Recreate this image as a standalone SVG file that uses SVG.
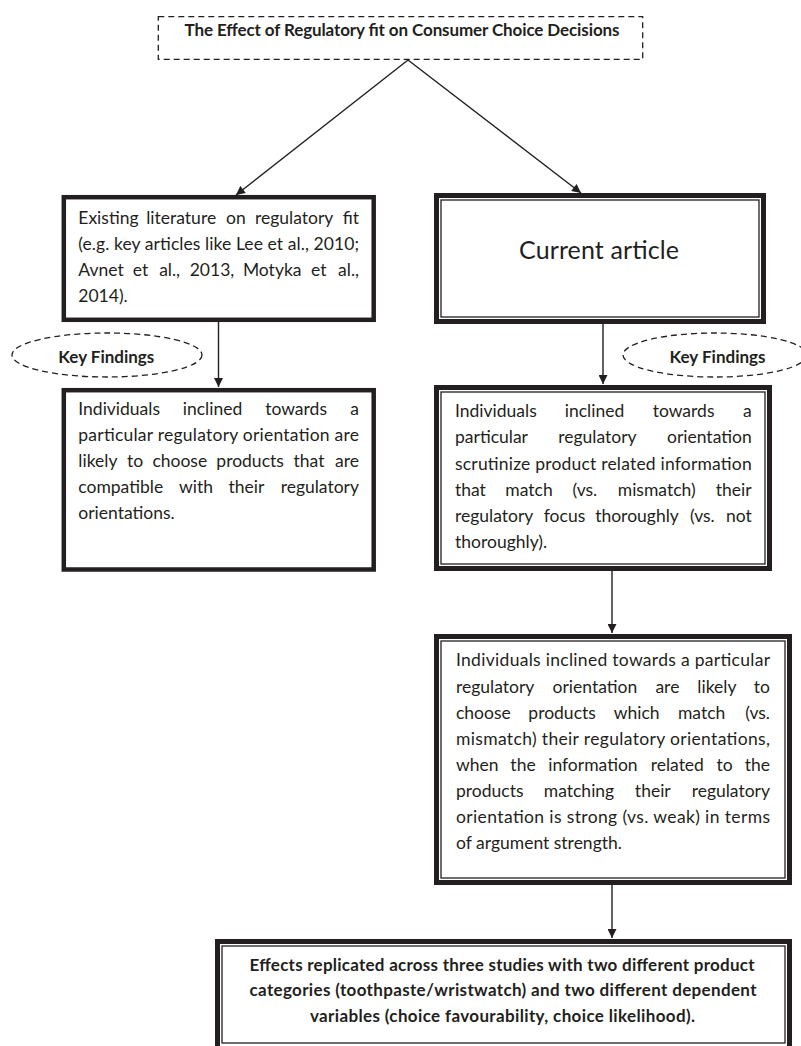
<svg xmlns="http://www.w3.org/2000/svg" width="801" height="1046" viewBox="0 0 801 1046">
<style>
text { font-family: Lato, "Open Sans", "Liberation Sans", sans-serif; fill: #231f20; }
.b { font-size: 17.5px; }
.m { text-anchor: middle; }
.e { text-anchor: end; }
.bold { font-size: 17px; font-weight: bold; }
.big { font-size: 25px; }
.dash { fill: none; stroke: #231f20; stroke-width: 1.3; stroke-dasharray: 6 4; }
.thick { fill: #fff; stroke: #231f20; stroke-width: 4.5; }
.outer { fill: #fff; stroke: #231f20; stroke-width: 5; }
.inner { fill: none; stroke: #231f20; stroke-width: 1.3; }
.conn { fill: none; stroke: #231f20; stroke-width: 1.4; marker-end: url(#ah); }
</style>
<defs>
<marker id="ah" viewBox="0 0 10 10" refX="10" refY="5" markerWidth="10" markerHeight="9" markerUnits="userSpaceOnUse" orient="auto">
<path d="M0,0 L10,5 L0,10 z" fill="#231f20"/>
</marker>
</defs>
<rect width="801" height="1046" fill="#fff"/>

<g id="connectors">
<line class="conn" x1="408" y1="60" x2="236" y2="195"/>
<line class="conn" x1="408" y1="60" x2="581" y2="193"/>
<line class="conn" x1="218.5" y1="322" x2="218.5" y2="387"/>
<line class="conn" x1="603" y1="324" x2="603" y2="384"/>
<line class="conn" x1="612" y1="571" x2="612" y2="633"/>
<line class="conn" x1="612" y1="885" x2="612" y2="938"/>
</g>

<g id="title">
<rect class="dash" x="158.3" y="16.7" width="484.4" height="42.6"/>
<text class="bold" x="402" y="36" text-anchor="middle" textLength="435" lengthAdjust="spacing">The Effect of Regulatory fit on Consumer Choice Decisions</text>
</g>

<g id="existing-literature">
<rect class="thick" x="63.8" y="197.2" width="309.9" height="122.6"/>
<text class="b" x="78.3" y="224">Existing</text><text class="b m" x="181.2" y="224">literature</text><text class="b m" x="235.9" y="224">on</text><text class="b m" x="294.2" y="224">regulatory</text><text class="b e" x="359" y="224">fit</text>
<text class="b" x="78.3" y="250" textLength="280.7" lengthAdjust="spacing">(e.g. key articles like Lee et al., 2010;</text>
<text class="b" x="78.3" y="276">Avnet</text><text class="b m" x="140.6" y="276">et</text><text class="b m" x="169.6" y="276">al.,</text><text class="b m" x="212" y="276">2013,</text><text class="b m" x="272.2" y="276">Motyka</text><text class="b m" x="318.8" y="276">et</text><text class="b e" x="359" y="276">al.,</text>
<text class="b" x="78.3" y="302">2014).</text>
</g>

<g id="key-findings-left">
<ellipse class="dash" cx="107" cy="355" rx="95" ry="22"/>
<text class="bold" x="106.3" y="362.7" text-anchor="middle" textLength="96" lengthAdjust="spacing">Key Findings</text>
</g>

<g id="existing-findings">
<rect class="thick" x="63.8" y="390.2" width="309.9" height="179.3"/>
<text class="b" x="78.3" y="415">Individuals</text><text class="b m" x="212.5" y="415">inclined</text><text class="b m" x="296.1" y="415">towards</text><text class="b e" x="359" y="415">a</text>
<text class="b" x="78.3" y="441" textLength="280.7" lengthAdjust="spacing">particular regulatory orientation are</text>
<text class="b" x="78.3" y="467">likely</text><text class="b m" x="135.1" y="467">to</text><text class="b m" x="179.8" y="467">choose</text><text class="b m" x="250.1" y="467">products</text><text class="b m" x="309" y="467">that</text><text class="b e" x="359" y="467">are</text>
<text class="b" x="78.3" y="493">compatible</text><text class="b m" x="196.1" y="493">with</text><text class="b m" x="246.5" y="493">their</text><text class="b e" x="359" y="493">regulatory</text>
<text class="b" x="78.3" y="519">orientations.</text>
</g>

<g id="current-article">
<rect class="outer" x="436.5" y="195.5" width="327" height="126"/>
<rect class="inner" x="441" y="200" width="318" height="117"/>
<text class="big" x="599" y="259" text-anchor="middle" textLength="160" lengthAdjust="spacing">Current article</text>
</g>

<g id="key-findings-right">
<ellipse class="dash" cx="715" cy="355" rx="92" ry="22"/>
<text class="bold" x="717.5" y="362.7" text-anchor="middle" textLength="96" lengthAdjust="spacing">Key Findings</text>
</g>

<g id="current-findings">
<rect class="outer" x="436.5" y="387.5" width="333" height="181"/>
<rect class="inner" x="441" y="392" width="324" height="172"/>
<text class="b" x="455" y="417">Individuals</text><text class="b m" x="594.5" y="417">inclined</text><text class="b m" x="683.6" y="417">towards</text><text class="b e" x="751.7" y="417">a</text>
<text class="b" x="455" y="443">particular</text><text class="b m" x="597.4" y="443">regulatory</text><text class="b e" x="751.7" y="443">orientation</text>
<text class="b" x="455" y="470" textLength="296.7" lengthAdjust="spacing">scrutinize product related information</text>
<text class="b" x="455" y="496">that</text><text class="b m" x="529" y="496">match</text><text class="b m" x="584.8" y="496">(vs.</text><text class="b m" x="656.7" y="496">mismatch)</text><text class="b e" x="751.7" y="496">their</text>
<text class="b" x="455" y="522">regulatory</text><text class="b m" x="564.5" y="522">focus</text><text class="b m" x="637" y="522">thoroughly</text><text class="b m" x="702.3" y="522">(vs.</text><text class="b e" x="751.7" y="522">not</text>
<text class="b" x="455" y="548">thoroughly).</text>
</g>

<g id="choice-findings">
<rect class="outer" x="436.5" y="636.5" width="353" height="246"/>
<rect class="inner" x="441" y="641" width="344" height="237"/>
<text class="b" x="456" y="666" textLength="314" lengthAdjust="spacing">Individuals inclined towards a particular</text>
<text class="b" x="456" y="692.5">regulatory</text><text class="b m" x="594.9" y="692.5">orientation</text><text class="b m" x="667.4" y="692.5">are</text><text class="b m" x="716.9" y="692.5">likely</text><text class="b e" x="770" y="692.5">to</text>
<text class="b" x="456" y="718.5">choose</text><text class="b m" x="562.1" y="718.5">products</text><text class="b m" x="636.7" y="718.5">which</text><text class="b m" x="701.6" y="718.5">match</text><text class="b e" x="770" y="718.5">(vs.</text>
<text class="b" x="456" y="745" textLength="314" lengthAdjust="spacing">mismatch) their regulatory orientations,</text>
<text class="b" x="456" y="771">when</text><text class="b m" x="523" y="771">the</text><text class="b m" x="592.9" y="771">information</text><text class="b m" x="677.3" y="771">related</text><text class="b m" x="724.6" y="771">to</text><text class="b e" x="770" y="771">the</text>
<text class="b" x="456" y="797">products</text><text class="b m" x="579" y="797">matching</text><text class="b m" x="652.8" y="797">their</text><text class="b e" x="770" y="797">regulatory</text>
<text class="b" x="456" y="823" textLength="314" lengthAdjust="spacing">orientation is strong (vs. weak) in terms</text>
<text class="b" x="456" y="849">of argument strength.</text>
</g>

<g id="replication">
<rect class="outer" x="217.5" y="941.5" width="572" height="112"/>
<rect class="inner" x="222" y="946" width="563" height="97"/>
<text class="bold" x="502" y="971" text-anchor="middle" textLength="505" lengthAdjust="spacing">Effects replicated across three studies with two different product</text>
<text class="bold" x="503" y="996" text-anchor="middle" textLength="507" lengthAdjust="spacing">categories (toothpaste/wristwatch) and two different dependent</text>
<text class="bold" x="502.5" y="1022" text-anchor="middle" textLength="385" lengthAdjust="spacing">variables (choice favourability, choice likelihood).</text>
</g>
</svg>
